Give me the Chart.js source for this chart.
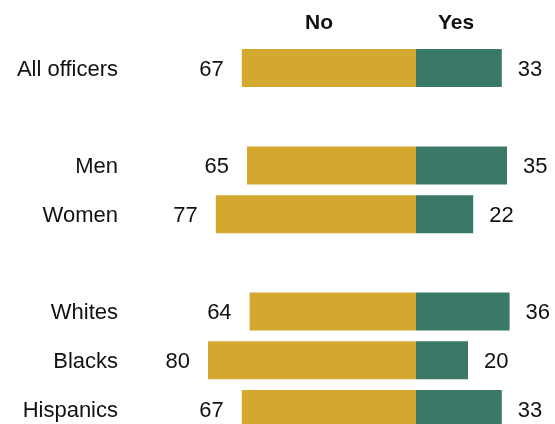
<!DOCTYPE html>
<html>
<head>
<meta charset="utf-8">
<script src="https://cdn.jsdelivr.net/npm/chart.js@4"></script>
<style>
html,body{margin:0;padding:0;background:#fff;}
#wrap{width:555px;height:424px;position:relative;}
</style>
</head>
<body>
<div id="wrap"><canvas id="c" width="555" height="424"></canvas></div>
<script>
// Data
const categories = ["All officers", "", "Men", "Women", "", "Whites", "Blacks", "Hispanics"];
const noValues  = [67, null, 65, 77, null, 64, 80, 67];
const yesValues = [33, null, 35, 22, null, 36, 20, 33];
const seriesNames = ["No", "Yes"];

const GOLD = "#D4A72F";
const GREEN = "#3A7868";
const TEXT = "#111111";
const FONT = "'Liberation Sans', Arial, sans-serif";

const labelPlugin = {
  id: "labels",
  afterDatasetsDraw(chart) {
    const ctx = chart.ctx;
    const xs = chart.scales.x, ys = chart.scales.y;
    ctx.save();
    ctx.fillStyle = TEXT;
    ctx.textBaseline = "middle";
    ctx.font = "22px " + FONT;
    categories.forEach((cat, i) => {
      if (noValues[i] == null) return;
      const y = ys.getPixelForValue(i) + 1.5;
      ctx.textAlign = "right";
      ctx.fillText(cat, 118, y);
      ctx.fillText(String(noValues[i]), xs.getPixelForValue(-noValues[i]) - 18, y);
      ctx.textAlign = "left";
      ctx.fillText(String(yesValues[i]), xs.getPixelForValue(yesValues[i]) + 16, y);
    });
    // headers
    ctx.font = "bold 21px " + FONT;
    ctx.textAlign = "center";
    ctx.fillText(seriesNames[0], xs.getPixelForValue(-37.3), 23);
    ctx.fillText(seriesNames[1], xs.getPixelForValue(15.4), 23);
    ctx.restore();
  }
};

new Chart(document.getElementById("c"), {
  type: "bar",
  data: {
    labels: categories,
    datasets: [
      { label: seriesNames[0], data: noValues.map(v => v == null ? null : -v), backgroundColor: GOLD, clip: false },
      { label: seriesNames[1], data: yesValues, backgroundColor: GREEN, clip: false }
    ]
  },
  options: {
    indexAxis: "y",
    responsive: false,
    animation: false,
    events: [],
    layout: { padding: { left: 156, right: 9, top: 68, bottom: 15 } },
    datasets: { bar: { categoryPercentage: 1, barPercentage: 0.78 } },
    scales: {
      x: { stacked: true, min: -100, max: 50, display: false },
      y: { stacked: true, offset: false, display: false }
    },
    plugins: { legend: { display: false }, tooltip: { enabled: false } }
  },
  plugins: [labelPlugin]
});
</script>
</body>
</html>
